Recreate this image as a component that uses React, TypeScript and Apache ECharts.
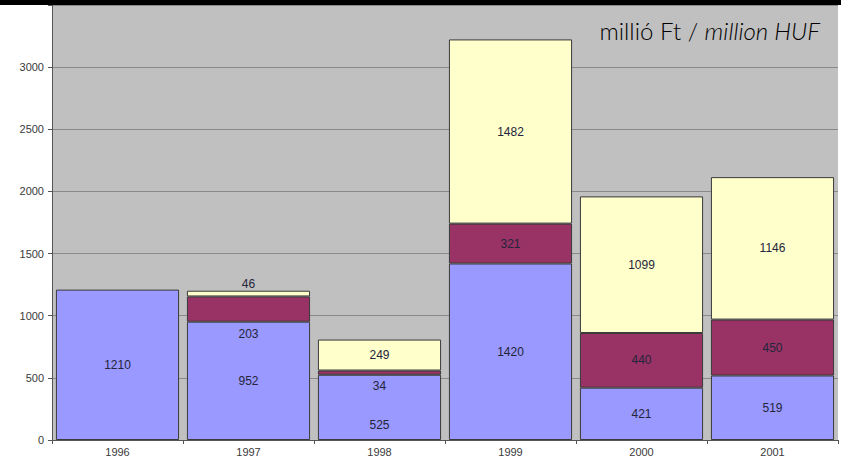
import React, { useEffect, useRef } from "react";
import * as echarts from "echarts";

const categories = ["1996", "1997", "1998", "1999", "2000", "2001"];
const seriesBlue = [1210, 952, 525, 1420, 421, 519];
const seriesMaroon: (number | string)[] = ["-", 203, 34, 321, 440, 450];
const seriesYellow: (number | string)[] = ["-", 46, 249, 1482, 1099, 1146];
const yTicks = [0, 500, 1000, 1500, 2000, 2500, 3000];

const labelTweaks: Record<string, any> = {
  "0-2": { offset: [0, 18] },
  "1-1": { position: "bottom", distance: 6 },
  "1-2": { position: "bottom", distance: 5 },
  "2-1": { position: "top", distance: 1 },
};

export default function App() {
  const ref = useRef<HTMLDivElement>(null);
  useEffect(() => {
    if (!ref.current) return;
    const chart = echarts.init(ref.current, undefined, { renderer: "svg" });
    const colors = ["#9999FF", "#993366", "#FFFFCC"];
    const all = [seriesBlue, seriesMaroon, seriesYellow];
    const series = all.map((arr, si) => ({
      type: "bar",
      stack: "total",
      barCategoryGap: "6%",
      itemStyle: { color: colors[si], borderColor: "#3a3a3a", borderWidth: 1 },
      label: {
        show: true,
        position: "inside",
        color: "#24243a",
        fontSize: 12,
        fontFamily: "Liberation Sans, Arial, sans-serif",
      },
      data: arr.map((v, ci) => {
        const t = labelTweaks[`${si}-${ci}`];
        return t ? { value: v, label: t } : v;
      }),
    }));
    chart.setOption({
      animation: false,
      backgroundColor: "#ffffff",
      grid: {
        left: 52,
        right: 3,
        top: 5,
        bottom: 25,
        show: true,
        backgroundColor: "#c0c0c0",
        borderWidth: 0,
      },
      xAxis: {
        type: "category",
        data: categories,
        axisLine: { show: true, lineStyle: { color: "#555", width: 1 } },
        axisTick: { show: true, alignWithLabel: false, length: 4, lineStyle: { color: "#555" } },
        axisLabel: {
          color: "#3a3a3a",
          fontSize: 11,
          fontFamily: "Liberation Sans, Arial, sans-serif",
          margin: 6,
        },
      },
      yAxis: {
        type: "value",
        min: 0,
        max: 3500,
        interval: 500,
        axisLine: { show: true, lineStyle: { color: "#555", width: 1 } },
        axisTick: { show: true, length: 4, lineStyle: { color: "#555" } },
        splitLine: { show: true, lineStyle: { color: "#8a8a8a", width: 1 } },
        axisLabel: {
          color: "#3a3a3a",
          fontSize: 11,
          fontFamily: "Liberation Sans, Arial, sans-serif",
          margin: 8,
          formatter: (v: number) => (yTicks.includes(v) ? String(v) : ""),
        },
      },
      graphic: [
        {
          type: "rect",
          shape: { x: 0, y: 0, width: 841, height: 5 },
          style: { fill: "#000" },
          z: 100,
        },
        {
          type: "text",
          right: 21,
          top: 18,
          style: {
            text: "{a|millió Ft / }{b|million HUF}",
            rich: {
              a: { fontFamily: "Lato, sans-serif", fontSize: 24, fontWeight: 300, fill: "#000" },
              b: { fontFamily: "Lato, sans-serif", fontSize: 24, fontWeight: 300, fontStyle: "italic", fill: "#000" },
            },
          },
          z: 100,
        },
      ],
      series,
    });
    return () => chart.dispose();
  }, []);
  return (
    <div
      ref={ref}
      style={{ position: "fixed", left: 0, top: 0, width: 841, height: 465 }}
    />
  );
}
